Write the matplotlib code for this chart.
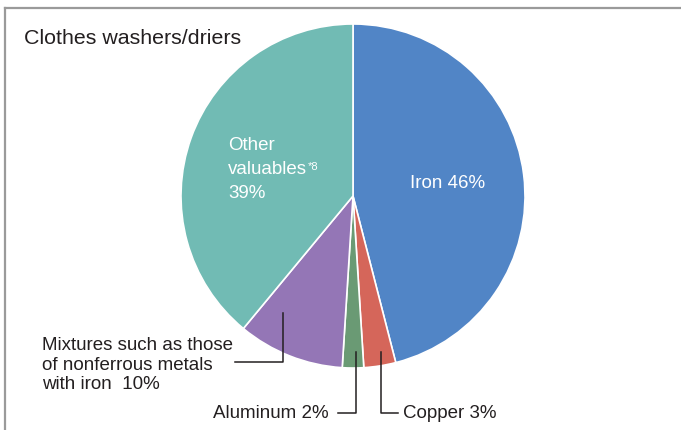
import matplotlib
matplotlib.use("Agg")
import matplotlib.pyplot as plt
from matplotlib.lines import Line2D

plt.rcParams['font.family'] = ['Liberation Sans', 'DejaVu Sans']

title = "Clothes washers/driers"
categories = ["Iron", "Copper", "Aluminum", "Mixtures", "Other valuables"]
values = [46, 3, 2, 10, 39]
colors = ["#5185c6", "#d5665a", "#6a9a74", "#9476b6", "#71bbb4"]

W, H = 681, 430
fig = plt.figure(figsize=(W / 100, H / 100), dpi=100)
fig.patch.set_facecolor("white")

cx, cy, r = 353, 196, 172  # pixels (from top)
ax = fig.add_axes([(cx - r) / W, (H - cy - r) / H, 2 * r / W, 2 * r / H])
ax.pie(values, colors=colors, startangle=90, counterclock=False, radius=1,
       wedgeprops=dict(edgecolor="white", linewidth=1.2))
ax.set_xlim(-1, 1)
ax.set_ylim(-1, 1)
ax.set_aspect("equal")
ax.axis("off")

def px(x, y):
    return x / W, 1 - y / H

# figure frame (top and left)
fig.add_artist(Line2D([px(5, 8)[0], 1], [px(5, 8)[1]] * 2, color="#9a9a9a", lw=1.6))
fig.add_artist(Line2D([px(5, 8)[0]] * 2, [px(5, 8)[1], 0], color="#9a9a9a", lw=1.6))

tc = "#231f20"
fs = 13.5
fig.text(*px(24, 38.5), title, fontsize=15.4, color=tc, va="center", ha="left")

# inner labels
fig.text(*px(448, 183), f"{categories[0]} {values[0]}%", fontsize=fs, color="white",
         va="center", ha="center")
fig.text(*px(228, 145.5), "Other", fontsize=fs, color="white", va="center", ha="left")
t = fig.text(*px(228, 170), "valuables", fontsize=fs, color="white", va="center", ha="left")
fig.text(*px(228, 194), f"{values[4]}%", fontsize=fs, color="white", va="center", ha="left")
ax.annotate("*8", xy=(1, 1), xycoords=t, xytext=(0.5, 0), textcoords="offset points",
            fontsize=8, color="white", va="top", ha="left")

# outer labels
fig.text(*px(42, 365), f"Mixtures such as those\nof nonferrous metals\nwith iron  {values[3]}%",
         fontsize=fs, color=tc, va="center", ha="left", linespacing=1.22)
fig.text(*px(329, 414), f"{categories[2]} {values[2]}%", fontsize=fs, color=tc,
         va="center", ha="right")
fig.text(*px(403, 414), f"{categories[1]} {values[1]}%", fontsize=fs, color=tc,
         va="center", ha="left")

def leader(pts):
    xs = [p[0] / W for p in pts]
    ys = [1 - p[1] / H for p in pts]
    fig.add_artist(Line2D(xs, ys, color=tc, lw=1.1))

leader([(235, 362), (283, 362), (283, 313)])
leader([(338, 413), (356, 413), (356, 352)])
leader([(381, 352), (381, 413), (398, 413)])

fig.savefig("out.png", dpi=100)
